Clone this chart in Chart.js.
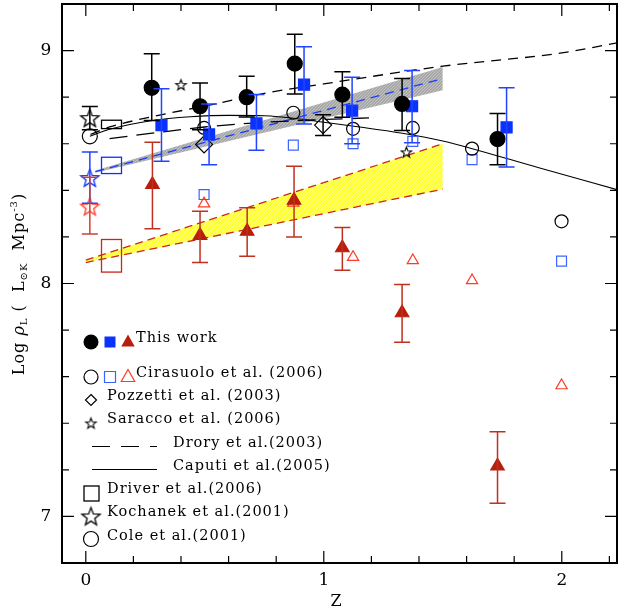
<!DOCTYPE html>
<html>
<head>
<meta charset="utf-8">
<script src="https://cdn.jsdelivr.net/npm/chart.js@4.4.0/dist/chart.umd.min.js"></script>
<style>
html, body { margin: 0; padding: 0; background: #fff; }
</style>
</head>
<body>
<canvas id="lumChart" width="618" height="612"></canvas>
<script>
// ---- data (z, log rho_L) ----
// this work: K (black), J (blue), B/U (red)
const zBlack   = [0.277, 0.48, 0.676, 0.878, 1.078, 1.329, 1.73];
const yBlack   = [8.84, 8.761, 8.80, 8.944, 8.811, 8.771, 8.62];
const yBlackHi = [8.986, 8.861, 8.89, 9.07, 8.909, 8.88, 8.73];
const yBlackLo = [8.70, 8.66, 8.715, 8.814, 8.714, 8.657, 8.51];

const zBlue   = [0.318, 0.518, 0.717, 0.917, 1.119, 1.371, 1.768];
const yBlue   = [8.68, 8.64, 8.687, 8.854, 8.742, 8.761, 8.67];
const yBlueHi = [8.836, 8.771, 8.811, 9.016, 8.885, 8.914, 8.84];
const yBlueLo = [8.525, 8.51, 8.572, 8.685, 8.60, 8.604, 8.50];

const zRed   = [0.28, 0.48, 0.678, 0.875, 1.078, 1.329, 1.73];
const yRed   = [8.425, 8.206, 8.224, 8.357, 8.153, 7.874, 7.216];
const yRedHi = [8.606, 8.31, 8.325, 8.503, 8.24, 7.996, 7.363];
const yRedLo = [8.235, 8.09, 8.117, 8.20, 8.057, 7.748, 7.057];

// Cirasuolo et al. (2006)
const zCira    = [0.497, 0.872, 1.123, 1.374, 1.623, 1.999];
const yCiraK   = [8.668, 8.733, 8.664, 8.668, 8.579, 8.267];
const yCiraJ   = [8.382, 8.594, 8.60, 8.61, 8.532, 8.096];
const yCiraB   = [8.343, 8.346, 8.113, 8.099, 8.013, 7.562];

// Pozzetti et al. (2003)
const zPoz   = [0.497, 0.997];
const yPoz   = [8.597, 8.68];
const yPozLo = [8.597, 8.635];
const yPozHi = [8.597, 8.725];

// Saracco et al. (2006)
const zSar = [0.40, 1.347];
const ySar = [8.854, 8.565];

// Kochanek et al. (2001), K / J / B
const zKoch   = [0.017, 0.017, 0.017];
const yKoch   = [8.712, 8.455, 8.332];
const yKochLo = [8.66, 8.345, 8.213];
const yKochHi = [8.76, 8.565, 8.456];

// Cole et al. (2001)
const zCole = [0.017];
const yCole = [8.632];

// Driver et al. (2006) boxes, K / J / B
const zDriver    = [0.108, 0.108, 0.108];
const yDriverLo  = [8.665, 8.472, 8.049];
const yDriverHi  = [8.701, 8.542, 8.189];
const driverHalfWidth = 0.042;

// Drory et al. (2003) and Caputi et al. (2005) curves
const zDroryA = [0.02, 0.1, 0.25, 0.53, 0.77, 1.0, 1.5, 2.0, 2.232];
const yDroryA = [8.64, 8.672, 8.71, 8.768, 8.82, 8.857, 8.933, 8.99, 9.033];
const zDroryB = [0.1, 0.3, 0.5, 0.72, 0.95, 1.19];
const yDroryB = [8.622, 8.648, 8.672, 8.69, 8.702, 8.711];
const zCaputi = [0.017, 0.1, 0.28, 0.44, 0.6, 0.75, 0.9, 1.0, 1.15, 1.33, 1.5, 1.62, 1.9, 2.232];
const yCaputi = [8.632, 8.662, 8.70, 8.716, 8.722, 8.72, 8.706, 8.692, 8.672, 8.645, 8.612, 8.58, 8.498, 8.403];

// fit bands
const zGray    = [0.04, 1.5];
const yGrayHi  = [8.485, 8.93];
const yGrayLo  = [8.475, 8.83];
const yGrayFit = [8.48, 8.88];
const zYellow   = [0.0, 1.5];
const yYellowHi = [8.10, 8.60];
const yYellowLo = [8.09, 8.405];

// axes
const xTickLabels = ['0', '1', '2'];
const yTickLabels = ['7', '8', '9'];

// ---- helpers ----
const FONT = '"DejaVu Serif", "Liberation Serif", serif';
const BLUE = '#0a32ff', BLUE_L = '#3a64ff', RED = '#b81e0c', RED_L = '#ff3a26';

function pts(xs, ys) { return xs.map((x, i) => ({ x: x, y: ys[i] })); }

const cv = document.getElementById('lumChart');
const mainCtx = cv.getContext('2d');

function hatch(bg, fg) {
    const c = document.createElement('canvas');
    c.width = 3; c.height = 3;
    const g = c.getContext('2d');
    g.fillStyle = bg; g.fillRect(0, 0, 3, 3);
    g.strokeStyle = fg; g.lineWidth = 0.7;
    g.beginPath(); g.moveTo(0, 3); g.lineTo(3, 0); g.stroke();
    return mainCtx.createPattern(c, 'repeat');
}

function starImg(size, color, lw) {
    const c = document.createElement('canvas');
    c.width = c.height = Math.ceil(size + 4);
    const g = c.getContext('2d');
    const cx = c.width / 2, cy = c.height / 2 + size * 0.06;
    const R = size / 2, r = R * 0.42;
    g.beginPath();
    for (let i = 0; i < 10; i++) {
        const a = -Math.PI / 2 + i * Math.PI / 5;
        const rr = i % 2 ? r : R;
        g.lineTo(cx + rr * Math.cos(a), cy + rr * Math.sin(a));
    }
    g.closePath();
    g.strokeStyle = color; g.lineWidth = lw; g.stroke();
    return c;
}

const starSmall = starImg(11, '#000', 1.1);
const starBigK = starImg(19, '#000', 1.3);
const starBigJ = starImg(19, BLUE, 1.3);
const starBigB = starImg(19, RED_L, 1.3);

function pointSet(label, xs, ys, style, radius, color, filled, lw) {
    return {
        label: label, data: pts(xs, ys), showLine: false, order: 1,
        pointStyle: style, pointRadius: radius, pointHoverRadius: radius,
        borderColor: color, backgroundColor: filled ? color : 'rgba(0,0,0,0)',
        pointBorderWidth: lw || 1.2
    };
}

function lineSet(label, xs, ys, color, dash, width, order, extra) {
    return Object.assign({
        label: label, data: pts(xs, ys), showLine: true, order: order,
        borderColor: color, borderWidth: width, borderDash: dash,
        pointRadius: 0, fill: false, cubicInterpolationMode: 'monotone'
    }, extra || {});
}

// ---- plugin: frame, ticks, error bars, boxes, legend, labels ----
function errBar(ctx, xs, ys, lo, hi, color, sx, sy) {
    ctx.save();
    ctx.strokeStyle = color; ctx.lineWidth = 1.5; ctx.setLineDash([]);
    xs.forEach((x, i) => {
        if (hi[i] <= lo[i]) return;
        const px = sx.getPixelForValue(x);
        const p1 = sy.getPixelForValue(lo[i]), p2 = sy.getPixelForValue(hi[i]);
        ctx.beginPath();
        ctx.moveTo(px, p1); ctx.lineTo(px, p2);
        ctx.moveTo(px - 8, p1); ctx.lineTo(px + 8, p1);
        ctx.moveTo(px - 8, p2); ctx.lineTo(px + 8, p2);
        ctx.stroke();
    });
    ctx.restore();
}

function mark(ctx, style, x, y, r, color, filled) {
    ctx.save();
    ctx.strokeStyle = color; ctx.fillStyle = color; ctx.lineWidth = 1.2;
    ctx.beginPath();
    if (style === 'circle') {
        ctx.arc(x, y, r, 0, Math.PI * 2);
    } else if (style === 'rect') {
        ctx.rect(x - r, y - r, 2 * r, 2 * r);
    } else if (style === 'triangle') {
        ctx.moveTo(x, y - r); ctx.lineTo(x + r * 0.9, y + r * 0.6); ctx.lineTo(x - r * 0.9, y + r * 0.6); ctx.closePath();
    } else if (style === 'diamond') {
        ctx.moveTo(x, y - r); ctx.lineTo(x + r, y); ctx.lineTo(x, y + r); ctx.lineTo(x - r, y); ctx.closePath();
    }
    if (filled) ctx.fill(); else ctx.stroke();
    ctx.restore();
}

function txt(ctx, s, x, y, size) {
    ctx.save();
    ctx.font = size + 'px ' + FONT;
    ctx.letterSpacing = '1px';
    ctx.fillStyle = '#000';
    ctx.textBaseline = 'middle';
    ctx.fillText(s, x, y);
    ctx.restore();
}

const decor = {
    id: 'decor',
    afterDatasetsDraw(chart) {
        const ctx = chart.ctx, sx = chart.scales.x, sy = chart.scales.y;
        // Driver boxes
        ctx.save();
        ctx.lineWidth = 1.3;
        const boxColors = ['#000', BLUE, '#c8281a'];
        zDriver.forEach((z, i) => {
            const x1 = sx.getPixelForValue(z - driverHalfWidth), x2 = sx.getPixelForValue(z + driverHalfWidth);
            const y1 = sy.getPixelForValue(yDriverHi[i]), y2 = sy.getPixelForValue(yDriverLo[i]);
            ctx.strokeStyle = boxColors[i];
            ctx.strokeRect(x1, y1, x2 - x1, y2 - y1);
        });
        ctx.restore();
        // error bars
        errBar(ctx, zBlack, yBlack, yBlackLo, yBlackHi, '#000', sx, sy);
        errBar(ctx, zBlue, yBlue, yBlueLo, yBlueHi, '#2244ff', sx, sy);
        errBar(ctx, zRed, yRed, yRedLo, yRedHi, '#c0301e', sx, sy);
        errBar(ctx, zPoz, yPoz, yPozLo, yPozHi, '#000', sx, sy);
        errBar(ctx, [zKoch[0]], [yKoch[0]], [yKochLo[0]], [yKochHi[0]], '#000', sx, sy);
        errBar(ctx, [zKoch[1]], [yKoch[1]], [yKochLo[1]], [yKochHi[1]], '#2244ff', sx, sy);
        errBar(ctx, [zKoch[2]], [yKoch[2]], [yKochLo[2]], [yKochHi[2]], '#d04030', sx, sy);
    },
    afterDraw(chart) {
        const ctx = chart.ctx, sx = chart.scales.x, sy = chart.scales.y;
        const a = chart.chartArea;
        ctx.save();
        ctx.strokeStyle = '#000'; ctx.setLineDash([]);
        ctx.lineWidth = 2;
        ctx.strokeRect(a.left, a.top, a.right - a.left, a.bottom - a.top);
        ctx.lineWidth = 1.2;
        ctx.beginPath();
        for (let k = 0; k <= 11; k++) {
            const v = k * 0.2, px = sx.getPixelForValue(v);
            const len = k % 5 === 0 ? 12 : 7;
            ctx.moveTo(px, a.bottom); ctx.lineTo(px, a.bottom - len);
            ctx.moveTo(px, a.top); ctx.lineTo(px, a.top + len);
        }
        for (let k = 0; k <= 12; k++) {
            const v = 6.8 + k * 0.2, py = sy.getPixelForValue(v);
            const len = Math.abs(v - Math.round(v)) < 1e-6 ? 12 : 7;
            ctx.moveTo(a.left, py); ctx.lineTo(a.left + len, py);
            ctx.moveTo(a.right, py); ctx.lineTo(a.right - len, py);
        }
        ctx.stroke();
        ctx.restore();

        // tick labels
        ctx.save();
        ctx.font = '17px ' + FONT; ctx.fillStyle = '#000';
        ctx.textAlign = 'center'; ctx.textBaseline = 'middle';
        xTickLabels.forEach(l => ctx.fillText(l, sx.getPixelForValue(+l), a.bottom + 18));
        yTickLabels.forEach(l => ctx.fillText(l, a.left - 16, sy.getPixelForValue(+l)));
        ctx.font = '16px ' + FONT;
        ctx.fillText('Z', 336, a.bottom + 39);
        ctx.restore();

        // y title with sub/superscripts
        const parts = [
            ['Log ', 16, 0], ['\u03c1', 16, 0, 'italic '], ['L', 10, 4], [' (  L', 16, 0],
            ['\u2299K', 10, 4], ['  Mpc', 16, 0], ['-3', 10, -6], [')', 16, 0]
        ];
        ctx.save();
        ctx.translate(20, 284);
        ctx.rotate(-Math.PI / 2);
        ctx.fillStyle = '#000'; ctx.textBaseline = 'middle';
        ctx.letterSpacing = '1px';
        let total = 0;
        parts.forEach(p => { ctx.font = (p[3] || '') + p[1] + 'px ' + FONT; total += ctx.measureText(p[0]).width; });
        let cx = -total / 2;
        parts.forEach(p => {
            ctx.font = (p[3] || '') + p[1] + 'px ' + FONT;
            ctx.fillText(p[0], cx, p[2]);
            cx += ctx.measureText(p[0]).width;
        });
        ctx.restore();

        // legend
        const fs = 14.5;
        mark(ctx, 'circle', 91, 342, 7.5, '#000', true);
        mark(ctx, 'rect', 110, 342, 5.5, BLUE, true);
        mark(ctx, 'triangle', 128, 342, 7.5, RED, true);
        txt(ctx, 'This work', 136, 338, fs);
        mark(ctx, 'circle', 91, 377, 7, '#000', false);
        mark(ctx, 'rect', 110, 377, 5.5, BLUE_L, false);
        mark(ctx, 'triangle', 128, 377, 7.5, RED_L, false);
        txt(ctx, 'Cirasuolo et al. (2006)', 136, 373, fs);
        mark(ctx, 'diamond', 91, 400, 5.5, '#000', false);
        txt(ctx, 'Pozzetti et al. (2003)', 107, 396, fs);
        ctx.drawImage(starSmall, 91 - starSmall.width / 2, 423 - starSmall.height / 2);
        txt(ctx, 'Saracco et al. (2006)', 107, 419, fs);
        ctx.save();
        ctx.strokeStyle = '#000'; ctx.lineWidth = 1;
        ctx.setLineDash([18, 11]);
        ctx.beginPath(); ctx.moveTo(92, 446.5); ctx.lineTo(157, 446.5); ctx.stroke();
        ctx.setLineDash([]);
        ctx.beginPath(); ctx.moveTo(92, 469.5); ctx.lineTo(157, 469.5); ctx.stroke();
        ctx.restore();
        txt(ctx, 'Drory et al.(2003)', 173, 443, fs);
        txt(ctx, 'Caputi et al.(2005)', 173, 466, fs);
        ctx.save();
        ctx.strokeStyle = '#000'; ctx.lineWidth = 1.3;
        ctx.strokeRect(84, 486, 15, 15);
        ctx.restore();
        txt(ctx, 'Driver et al.(2006)', 107, 489, fs);
        ctx.drawImage(starBigK, 91 - starBigK.width / 2, 516 - starBigK.height / 2);
        txt(ctx, 'Kochanek et al.(2001)', 107, 512, fs);
        mark(ctx, 'circle', 91, 539, 7.5, '#000', false);
        txt(ctx, 'Cole et al.(2001)', 107, 536, fs);
    }
};

const grayFill = hatch('#a8a8a8', '#cccccc');
const yellowFill = hatch('#ffff30', '#ffffa8');

const datasets = [
    pointSet('This work K', zBlack, yBlack, 'circle', 7.5, '#000', true),
    pointSet('This work J', zBlue, yBlue, 'rect', 7.8, BLUE, true),
    pointSet('This work B', zRed, yRed, 'triangle', 7.8, RED, true),
    pointSet('Cirasuolo K', zCira, yCiraK, 'circle', 6.5, '#000', false),
    pointSet('Cirasuolo J', zCira, yCiraJ, 'rect', 7, BLUE_L, false),
    pointSet('Cirasuolo B', zCira, yCiraB, 'triangle', 6.5, RED_L, false),
    pointSet('Pozzetti', zPoz, yPoz, 'rectRot', 8.5, '#000', false),
    pointSet('Saracco', zSar, ySar, starSmall, 6, '#000', false),
    pointSet('Kochanek K', [zKoch[0]], [yKoch[0]], starBigK, 10, '#000', false),
    pointSet('Kochanek J', [zKoch[1]], [yKoch[1]], starBigJ, 10, BLUE, false),
    pointSet('Kochanek B', [zKoch[2]], [yKoch[2]], starBigB, 10, RED_L, false),
    pointSet('Cole', zCole, yCole, 'circle', 7.5, '#000', false),
    lineSet('Drory A', zDroryA, yDroryA, '#000', [10, 7], 1.3, 5),
    lineSet('Drory B', zDroryB, yDroryB, '#000', [18, 9], 1.3, 5),
    lineSet('Caputi', zCaputi, yCaputi, '#000', [], 1.1, 5),
    lineSet('Fit J', zGray, yGrayFit, '#1a3cff', [9, 6], 1.3, 6),
    lineSet('Fit B hi', zYellow, yYellowHi, '#c8281a', [8, 5], 1.3, 6),
    lineSet('Fit B lo', zYellow, yYellowLo, '#c8281a', [8, 5], 1.3, 6),
    lineSet('Gray hi', zGray, yGrayHi, 'rgba(0,0,0,0)', [], 0, 10, { fill: '+1', backgroundColor: grayFill }),
    lineSet('Gray lo', zGray, yGrayLo, 'rgba(0,0,0,0)', [], 0, 10),
    lineSet('Yellow hi', zYellow, yYellowHi, 'rgba(0,0,0,0)', [], 0, 10, { fill: '+1', backgroundColor: yellowFill }),
    lineSet('Yellow lo', zYellow, yYellowLo, 'rgba(0,0,0,0)', [], 0, 10)
];

new Chart(cv, {
    type: 'scatter',
    data: { datasets: datasets },
    options: {
        responsive: false,
        animation: false,
        layout: { autoPadding: false, padding: { left: 62, right: 1, top: 4, bottom: 49 } },
        scales: {
            x: { type: 'linear', min: -0.1, max: 2.232, display: false },
            y: { type: 'linear', min: 6.8, max: 9.2, display: false }
        },
        plugins: { legend: { display: false }, tooltip: { enabled: false } }
    },
    plugins: [decor]
});
</script>
</body>
</html>
